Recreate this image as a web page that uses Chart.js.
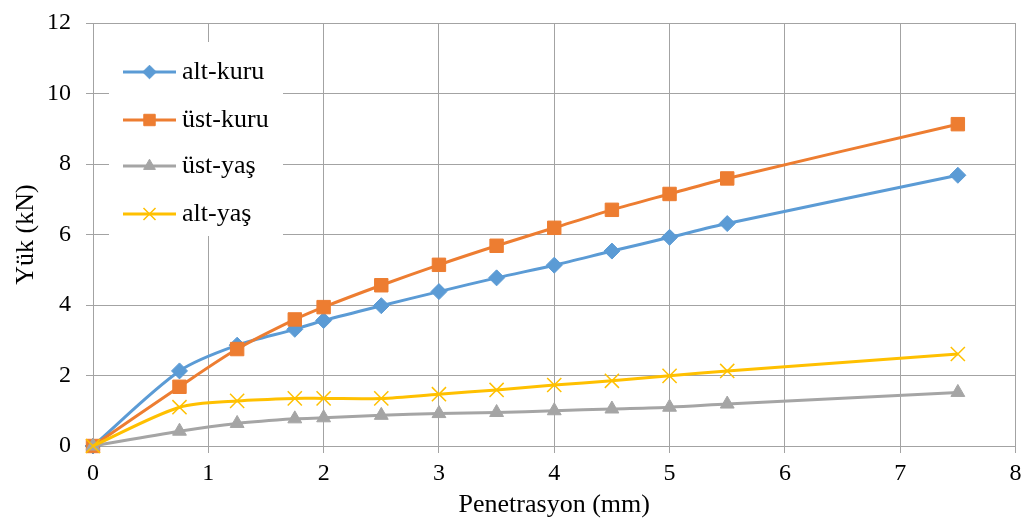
<!DOCTYPE html>
<html>
<head>
<meta charset="utf-8">
<script src="https://cdn.jsdelivr.net/npm/chart.js@4"></script>
<style>
  html, body { margin: 0; padding: 0; background: #ffffff; }
  #wrap { width: 1027px; height: 521px; }
</style>
</head>
<body>
<div id="wrap"><canvas id="c" width="1027" height="521"></canvas></div>
<script>
// Penetration (mm) at each reading
const penetrasyon = [0, 0.75, 1.25, 1.75, 2, 2.5, 3, 3.5, 4, 4.5, 5, 5.5, 7.5];

// Load (kN) for each specimen
const altKuru = [0, 2.13, 2.86, 3.31, 3.56, 3.98, 4.38, 4.77, 5.13, 5.53, 5.92, 6.31, 7.68];
const ustKuru = [0, 1.68, 2.75, 3.59, 3.94, 4.56, 5.14, 5.68, 6.19, 6.70, 7.15, 7.59, 9.13];
const ustYas  = [0, 0.42, 0.64, 0.77, 0.80, 0.87, 0.92, 0.95, 1.00, 1.05, 1.10, 1.19, 1.52];
const altYas  = [0, 1.10, 1.28, 1.35, 1.35, 1.35, 1.47, 1.59, 1.73, 1.85, 1.99, 2.13, 2.61];

const seriesNames = ['alt-kuru', 'üst-kuru', 'üst-yaş', 'alt-yaş'];
const xTitle = 'Penetrasyon (mm)';
const yTitle = 'Yük (kN)';

const FONT = "'Liberation Serif', 'Times New Roman', serif";
const GRID = '#a3a3a3';

function pts(ys) { return penetrasyon.map((x, i) => ({ x: x, y: ys[i] })); }

const styles = [
  { color: '#5B9BD5', pointStyle: 'rectRot', radius: 8, bw: 1, order: 4 },
  { color: '#ED7D31', pointStyle: 'rect', radius: 9.5, bw: 1, order: 3 },
  { color: '#A5A5A5', pointStyle: 'triangle', radius: 8, bw: 1, order: 2 },
  { color: '#FFC000', pointStyle: 'crossRot', radius: 10, bw: 1.5, order: 1 }
];
const values = [altKuru, ustKuru, ustYas, altYas];

const datasets = values.map((v, i) => ({
  label: seriesNames[i],
  data: pts(v),
  showLine: true,
  borderColor: styles[i].color,
  backgroundColor: styles[i].color,
  borderWidth: 3,
  tension: 0.3,
  pointStyle: styles[i].pointStyle,
  pointRadius: styles[i].radius,
  pointHoverRadius: styles[i].radius,
  pointBorderWidth: styles[i].bw,
  pointBackgroundColor: styles[i].color,
  pointBorderColor: styles[i].color,
  order: styles[i].order,
  clip: false
}));

// Legend box drawn inside the plot area
const insideLegend = {
  id: 'insideLegend',
  afterDatasetsDraw(chart) {
    const ctx = chart.ctx;
    ctx.save();
    ctx.fillStyle = '#ffffff';
    ctx.fillRect(109, 42, 174, 194);
    const rows = [72, 120, 166, 214];
    chart.data.datasets.forEach((ds, i) => {
      const y = rows[i];
      ctx.strokeStyle = ds.borderColor;
      ctx.lineWidth = 3;
      ctx.beginPath();
      ctx.moveTo(123, y);
      ctx.lineTo(176, y);
      ctx.stroke();
      ctx.fillStyle = ds.pointBackgroundColor;
      ctx.strokeStyle = ds.pointBorderColor;
      ctx.lineWidth = ds.pointBorderWidth;
      Chart.helpers.drawPoint(ctx, {
        pointStyle: ds.pointStyle,
        radius: ds.pointRadius * 0.85,
        borderWidth: ds.pointBorderWidth,
        rotation: 0
      }, 149.5, y);
      ctx.fillStyle = '#000000';
      ctx.font = '26px ' + FONT;
      ctx.textBaseline = 'middle';
      ctx.textAlign = 'left';
      ctx.fillText(ds.label, 182, y);
    });
    ctx.restore();
  }
};

new Chart(document.getElementById('c'), {
  type: 'scatter',
  data: { datasets: datasets },
  plugins: [insideLegend],
  options: {
    responsive: false,
    animation: false,
    events: [],
    layout: { padding: { left: 11, right: 10, top: 23, bottom: 0 } },
    plugins: { legend: { display: false }, tooltip: { enabled: false } },
    scales: {
      x: {
        type: 'linear',
        min: 0, max: 8,
        ticks: { stepSize: 1, color: '#000000', font: { family: FONT, size: 24 }, padding: 6 },
        grid: { color: GRID, lineWidth: 1, tickLength: 7, drawTicks: true },
        border: { color: GRID, width: 1 },
        title: { display: true, text: xTitle, color: '#000000', font: { family: FONT, size: 26 }, padding: 0 },
        afterFit(scale) {
          scale.height = 75;
          scale.paddingLeft = 0;
          scale.paddingRight = 0;
        }
      },
      y: {
        type: 'linear',
        min: 0, max: 12,
        ticks: { stepSize: 2, color: '#000000', font: { family: FONT, size: 24 }, padding: 15 },
        grid: { color: GRID, lineWidth: 1, tickLength: 7, drawTicks: true },
        border: { color: GRID, width: 1 },
        title: { display: true, text: yTitle, color: '#000000', font: { family: FONT, size: 26 }, padding: 0 },
        afterFit(scale) {
          scale.width = 82;
          scale.paddingTop = 0;
          scale.paddingBottom = 0;
        }
      }
    }
  }
});
</script>
</body>
</html>
